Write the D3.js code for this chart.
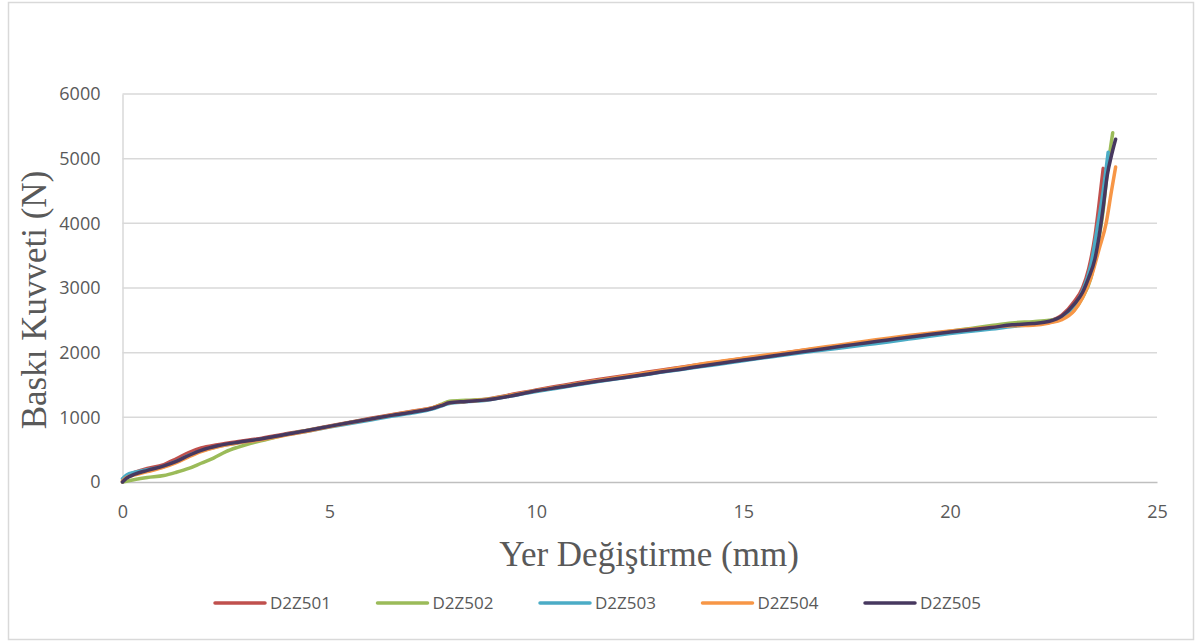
<!DOCTYPE html>
<html>
<head>
<meta charset="utf-8">
<script src="https://cdn.jsdelivr.net/npm/d3@7"></script>
<style>
  html, body { margin: 0; padding: 0; background: #fff; }
  svg { display: block; }
</style>
</head>
<body>
<svg id="chart" width="1204" height="641"></svg>
<script>
// Force–displacement curves for five specimens (mm, N)
const seriesNames = ["D2Z501", "D2Z502", "D2Z503", "D2Z504", "D2Z505"];
const seriesColors = ["#C0504D", "#9BBB59", "#4BACC6", "#F79646", "#47385F"];

const d2z501 = [
  [0,0],[0.1,80],[0.5,190],[1.0,270],[1.3,360],[1.6,455],[1.9,525],[2.3,575],[2.8,625],[3.3,670],
  [3.9,740],[4.5,805],[5.0,865],[5.5,925],[6.0,985],[6.5,1040],[7.0,1095],[7.5,1150],[7.7,1190],[7.9,1230],
  [8.3,1250],[8.8,1280],[9.3,1340],[10,1425],[10.5,1480],[11,1535],[11.5,1585],[12,1630],[12.5,1680],[13,1730],
  [13.5,1775],[14,1820],[14.5,1865],[15,1910],[15.5,1950],[16,1995],[16.5,2040],[17,2080],[17.5,2120],[18,2165],
  [18.5,2205],[19,2250],[19.5,2290],[20,2325],[20.5,2360],[21,2395],[21.5,2430],[22,2450],[22.4,2490],[22.7,2580],
  [23.0,2790],[23.2,3000],[23.35,3300],[23.5,3800],[23.6,4300],[23.7,4850]
];
const d2z502 = [
  [0,0],[0.3,40],[0.6,70],[1.0,100],[1.3,150],[1.6,210],[1.9,290],[2.2,370],[2.5,470],[2.8,540],
  [3.1,600],[3.5,660],[3.9,725],[4.5,800],[5.0,860],[5.5,920],[6.0,975],[6.5,1030],[7.0,1085],[7.5,1145],
  [7.7,1200],[7.9,1250],[8.3,1265],[8.8,1280],[9.3,1330],[10,1410],[10.5,1460],[11,1515],[11.5,1565],[12,1610],
  [12.5,1655],[13,1705],[13.5,1755],[14,1805],[14.5,1850],[15,1895],[15.5,1940],[16,1985],[16.5,2030],[17,2075],
  [17.5,2115],[18,2160],[18.5,2200],[19,2245],[19.5,2290],[20,2330],[20.5,2375],[21,2420],[21.5,2460],[22,2480],
  [22.4,2500],[22.7,2540],[23.0,2660],[23.2,2850],[23.4,3150],[23.55,3600],[23.7,4200],[23.8,4800],[23.93,5400]
];
const d2z503 = [
  [0,50],[0.1,110],[0.3,150],[0.6,190],[1.0,240],[1.3,320],[1.6,410],[1.9,480],[2.3,550],[2.8,605],
  [3.3,655],[3.9,725],[4.5,790],[5.0,850],[5.5,905],[6.0,960],[6.5,1015],[7.0,1065],[7.5,1130],[7.7,1175],
  [7.9,1215],[8.3,1240],[8.8,1265],[9.3,1320],[10,1400],[10.5,1450],[11,1505],[11.5,1555],[12,1600],[12.5,1645],
  [13,1695],[13.5,1740],[14,1785],[14.5,1830],[15,1875],[15.5,1920],[16,1965],[16.5,2005],[17,2045],[17.5,2085],
  [18,2125],[18.5,2165],[19,2210],[19.5,2255],[20,2295],[20.5,2330],[21,2365],[21.5,2405],[22,2435],[22.4,2470],
  [22.7,2530],[23.0,2720],[23.2,2950],[23.4,3350],[23.55,3900],[23.7,4500],[23.82,5100]
];
const d2z504 = [
  [0,20],[0.1,70],[0.3,110],[0.6,160],[1.0,230],[1.3,300],[1.6,390],[1.9,470],[2.3,545],[2.8,605],
  [3.3,650],[3.9,720],[4.5,790],[5.0,855],[5.5,915],[6.0,975],[6.5,1035],[7.0,1090],[7.5,1150],[7.7,1190],
  [7.9,1225],[8.3,1245],[8.8,1275],[9.3,1330],[10,1415],[10.5,1465],[11,1520],[11.5,1570],[12,1620],[12.5,1670],
  [13,1720],[13.5,1770],[14,1825],[14.5,1870],[15,1915],[15.5,1960],[16,2000],[16.5,2045],[17,2090],[17.5,2135],
  [18,2180],[18.5,2225],[19,2265],[19.5,2300],[20,2335],[20.5,2365],[21,2395],[21.5,2415],[22,2425],[22.4,2460],
  [22.7,2510],[23.0,2650],[23.2,2850],[23.4,3150],[23.6,3600],[23.77,4000],[23.9,4500],[24.0,4870]
];
const d2z505 = [
  [0,0],[0.1,60],[0.3,120],[0.6,180],[1.0,250],[1.3,320],[1.6,410],[1.9,490],[2.3,560],[2.8,615],
  [3.3,660],[3.9,730],[4.5,800],[5.0,860],[5.5,920],[6.0,975],[6.5,1030],[7.0,1080],[7.5,1140],[7.7,1180],
  [7.9,1225],[8.3,1245],[8.8,1270],[9.3,1320],[10,1410],[10.5,1460],[11,1510],[11.5,1560],[12,1605],[12.5,1650],
  [13,1700],[13.5,1745],[14,1795],[14.5,1840],[15,1885],[15.5,1930],[16,1975],[16.5,2020],[17,2065],[17.5,2110],
  [18,2155],[18.5,2195],[19,2240],[19.5,2280],[20,2320],[20.5,2355],[21,2390],[21.5,2430],[22,2450],[22.4,2485],
  [22.7,2565],[23.0,2750],[23.2,2930],[23.35,3160],[23.5,3450],[23.6,3800],[23.7,4250],[23.8,4750],[23.9,5050],[24.0,5300]
];
const seriesData = [d2z501, d2z502, d2z503, d2z504, d2z505];

const xTicks = [0, 5, 10, 15, 20, 25];
const yTicks = [0, 1000, 2000, 3000, 4000, 5000, 6000];

const xTitle = "Yer Değiştirme (mm)";
const yTitle = "Baskı Kuvveti (N)";

const svg = d3.select("#chart");
const plot = { left: 122.5, right: 1157, top: 94, bottom: 482 };

// chart frame
svg.append("rect")
  .attr("x", 8.5).attr("y", 2.5)
  .attr("width", 1185).attr("height", 637)
  .attr("fill", "#fff").attr("stroke", "#D9D9D9").attr("stroke-width", 1.5);

const x = d3.scaleLinear().domain([0, 25]).range([plot.left, plot.right]);
const y = d3.scaleLinear().domain([0, 6000]).range([plot.bottom, plot.top]);

// horizontal gridlines
svg.append("g")
  .selectAll("line")
  .data(yTicks.filter(d => d > 0))
  .join("line")
  .attr("x1", plot.left).attr("x2", plot.right)
  .attr("y1", d => y(d)).attr("y2", d => y(d))
  .attr("stroke", "#D9D9D9").attr("stroke-width", 1.5);

// y axis (labels plus thin vertical axis line)
const yAxis = svg.append("g")
  .attr("transform", `translate(${plot.left},0)`)
  .call(d3.axisLeft(y).tickValues(yTicks).tickSize(0).tickPadding(22).tickFormat(d3.format("d")));
yAxis.select(".domain").attr("stroke", "#D9D9D9").attr("stroke-width", 1.5);
yAxis.selectAll("text")
  .attr("fill", "#595959")
  .style("font-family", "'Open Sans', sans-serif")
  .style("font-size", "18px");

// x axis
const xAxis = svg.append("g")
  .attr("transform", `translate(0,${plot.bottom})`)
  .call(d3.axisBottom(x).tickValues(xTicks).tickSize(0).tickPadding(23).tickFormat(d3.format("d")));
xAxis.select(".domain").attr("stroke", "#BFBFBF").attr("stroke-width", 1.5);
xAxis.selectAll("text")
  .attr("fill", "#595959")
  .style("font-family", "'Open Sans', sans-serif")
  .style("font-size", "18px");

// curves
const line = d3.line()
  .x(d => x(d[0]))
  .y(d => y(d[1]))
  .curve(d3.curveMonotoneX);

svg.append("g")
  .selectAll("path")
  .data(seriesData)
  .join("path")
  .attr("d", line)
  .attr("fill", "none")
  .attr("stroke", (d, i) => seriesColors[i])
  .attr("stroke-width", 3.5)
  .attr("stroke-linejoin", "round")
  .attr("stroke-linecap", "round");

// axis titles
svg.append("text")
  .attr("x", 649).attr("y", 566)
  .attr("text-anchor", "middle")
  .attr("fill", "#595959")
  .style("font-family", "'Liberation Serif', 'Times New Roman', serif")
  .style("font-size", "35px")
  .text(xTitle);

svg.append("text")
  .attr("transform", "translate(46,300) rotate(-90)")
  .attr("text-anchor", "middle")
  .attr("fill", "#595959")
  .style("font-family", "'Liberation Serif', 'Times New Roman', serif")
  .style("font-size", "35px")
  .text(yTitle);

// legend
const legend = svg.append("g")
  .selectAll("g")
  .data(seriesNames)
  .join("g")
  .attr("transform", (d, i) => `translate(${215 + i * 162.5},603)`);
legend.append("line")
  .attr("x1", 0).attr("x2", 50)
  .attr("stroke", (d, i) => seriesColors[i])
  .attr("stroke-width", 3.5)
  .attr("stroke-linecap", "round");
legend.append("text")
  .attr("x", 55).attr("dy", "0.35em")
  .attr("fill", "#595959")
  .style("font-family", "'Open Sans', sans-serif")
  .style("font-size", "17px")
  .text(d => d);
</script>
</body>
</html>
